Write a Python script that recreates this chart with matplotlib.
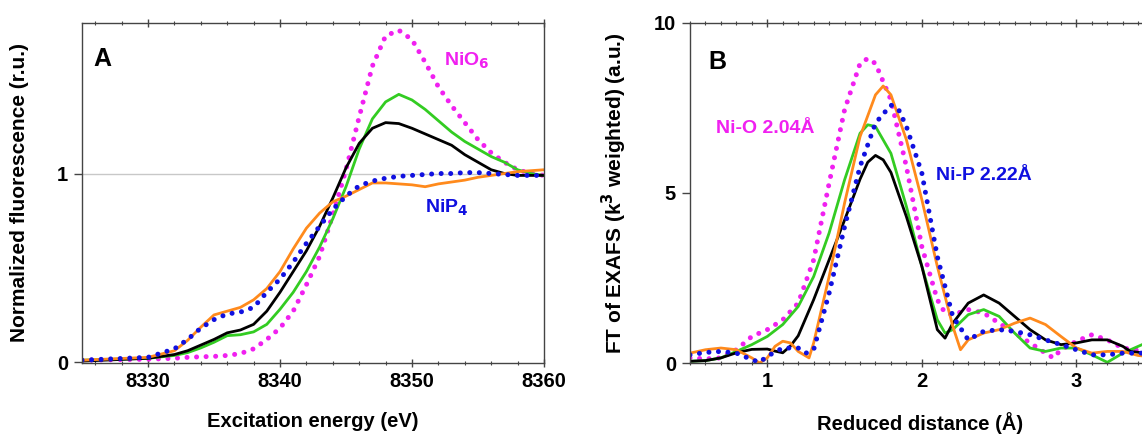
import matplotlib
matplotlib.use("Agg")
import matplotlib.pyplot as plt
from matplotlib.ticker import MultipleLocator

plt.rcParams['font.family'] = ['Liberation Sans', 'DejaVu Sans']
plt.rcParams['font.weight'] = 'bold'

# --- panel A: XANES ---
energy = [8325, 8330, 8332, 8333, 8334, 8335, 8336, 8337, 8338, 8339, 8340, 8341, 8342,
          8343, 8344, 8345, 8346, 8347, 8348, 8349, 8350, 8351, 8352, 8353, 8354, 8355,
          8356, 8357, 8358, 8359, 8360]
xanes_nio6 = [0.01, 0.015, 0.02, 0.025, 0.028, 0.03, 0.035, 0.045, 0.07, 0.12, 0.18, 0.27, 0.41,
              0.56, 0.78, 1.02, 1.30, 1.57, 1.73, 1.76, 1.71, 1.59, 1.46, 1.36, 1.27, 1.18,
              1.11, 1.06, 1.02, 1.00, 0.99]
xanes_green = [0.01, 0.02, 0.035, 0.05, 0.075, 0.105, 0.14, 0.145, 0.16, 0.20, 0.28, 0.37, 0.48,
               0.61, 0.76, 0.93, 1.13, 1.29, 1.38, 1.42, 1.39, 1.34, 1.28, 1.22, 1.17, 1.13,
               1.09, 1.06, 1.02, 1.00, 0.99]
xanes_black = [0.005, 0.02, 0.04, 0.06, 0.09, 0.12, 0.155, 0.17, 0.20, 0.27, 0.37, 0.48, 0.59,
               0.72, 0.87, 1.03, 1.16, 1.24, 1.27, 1.265, 1.24, 1.21, 1.18, 1.15, 1.10, 1.06,
               1.02, 1.00, 0.99, 0.99, 0.99]
xanes_orange = [0.01, 0.025, 0.06, 0.115, 0.185, 0.25, 0.27, 0.29, 0.33, 0.39, 0.48, 0.60, 0.71,
                0.79, 0.85, 0.88, 0.915, 0.95, 0.95, 0.945, 0.94, 0.93, 0.945, 0.955, 0.965, 0.98,
                0.99, 1.00, 1.01, 1.015, 1.02]
xanes_nip4 = [0.01, 0.025, 0.07, 0.12, 0.18, 0.225, 0.255, 0.265, 0.29, 0.37, 0.44, 0.53, 0.63,
              0.72, 0.81, 0.88, 0.935, 0.96, 0.975, 0.985, 0.99, 0.995, 1.00, 1.00, 1.005, 1.005,
              1.00, 0.995, 0.99, 0.99, 0.99]

# --- panel B: FT of EXAFS ---
dist_black = [0.5, 0.6, 0.7, 0.8, 0.9, 1.0, 1.05, 1.1, 1.15, 1.2, 1.3, 1.4, 1.5, 1.6, 1.65, 1.7,
              1.75, 1.8, 1.9, 2.0, 2.1, 2.15, 2.2, 2.3, 2.4, 2.5, 2.6, 2.7, 2.8, 2.9, 3.0, 3.1,
              3.2, 3.3, 3.35, 3.45]
ft_black = [0.05, 0.07, 0.15, 0.3, 0.4, 0.41, 0.35, 0.3, 0.5, 0.8, 1.86, 3.03, 4.2, 5.4, 5.9, 6.1,
            5.97, 5.6, 4.3, 2.84, 0.98, 0.73, 1.17, 1.76, 2.0, 1.76, 1.37, 0.98, 0.68, 0.54, 0.59,
            0.68, 0.68, 0.49, 0.34, 0.29]
dist_green = [0.5, 0.6, 0.7, 0.8, 0.9, 1.0, 1.1, 1.2, 1.3, 1.4, 1.5, 1.6, 1.65, 1.7, 1.8, 1.9,
              2.0, 2.1, 2.15, 2.2, 2.3, 2.4, 2.5, 2.6, 2.7, 2.8, 2.9, 3.0, 3.1, 3.2, 3.3, 3.4, 3.45]
ft_green = [0.05, 0.07, 0.15, 0.34, 0.54, 0.78, 1.13, 1.66, 2.54, 3.82, 5.38, 6.75, 7.0, 6.95,
            6.16, 4.6, 2.84, 1.27, 0.88, 0.98, 1.42, 1.57, 1.37, 0.88, 0.44, 0.34, 0.44, 0.44,
            0.24, 0.02, 0.29, 0.49, 0.59]
dist_orange = [0.5, 0.6, 0.7, 0.8, 0.9, 0.95, 1.0, 1.05, 1.1, 1.15, 1.2, 1.27, 1.3, 1.4, 1.5, 1.6,
               1.7, 1.75, 1.8, 1.9, 2.0, 2.1, 2.2, 2.25, 2.3, 2.4, 2.5, 2.6, 2.7, 2.8, 2.9, 3.0,
               3.1, 3.2, 3.3, 3.4, 3.45]
ft_orange = [0.29, 0.39, 0.44, 0.39, 0.15, 0.0, 0.15, 0.49, 0.64, 0.59, 0.34, 0.15, 0.59, 2.54,
             4.7, 6.65, 7.88, 8.14, 7.88, 6.56, 4.8, 2.84, 1.08, 0.39, 0.68, 0.88, 0.98, 1.17,
             1.32, 1.13, 0.78, 0.44, 0.29, 0.34, 0.34, 0.22, 0.2]
dist_nio = [0.5, 0.6, 0.7, 0.8, 0.9, 1.0, 1.1, 1.2, 1.3, 1.4, 1.5, 1.6, 1.65, 1.7, 1.8, 1.9, 2.0,
            2.1, 2.15, 2.2, 2.3, 2.4, 2.5, 2.6, 2.7, 2.8, 2.85, 2.9, 3.0, 3.1, 3.2, 3.3, 3.45]
ft_nio = [0.15, 0.12, 0.15, 0.39, 0.78, 0.98, 1.27, 1.76, 3.03, 5.28, 7.44, 8.8, 8.95, 8.8, 7.73,
          5.77, 3.42, 1.86, 1.47, 1.42, 1.57, 1.47, 1.17, 0.88, 0.59, 0.29, 0.15, 0.39, 0.64,
          0.83, 0.68, 0.44, 0.34]
dist_nip = [0.5, 0.6, 0.7, 0.8, 0.9, 0.95, 1.0, 1.1, 1.2, 1.25, 1.3, 1.4, 1.5, 1.6, 1.7, 1.8,
            1.85, 1.9, 2.0, 2.1, 2.2, 2.3, 2.4, 2.5, 2.6, 2.7, 2.8, 2.9, 3.0, 3.1, 3.2, 3.3, 3.45]
ft_nip = [0.24, 0.31, 0.34, 0.29, 0.1, 0.02, 0.2, 0.44, 0.44, 0.29, 0.39, 2.05, 4.0, 5.77, 7.05,
          7.58, 7.44, 6.95, 5.58, 3.13, 1.37, 0.68, 0.93, 0.98, 0.93, 0.83, 0.68, 0.54, 0.39,
          0.24, 0.24, 0.29, 0.29]

MAGENTA = '#f020f0'
GREEN = '#33cc22'
ORANGE = '#ff8a1c'
BLUE = '#1010e0'
DOTS = (0, (0.01, 1.9))


def style_axes(ax):
    for s in ax.spines.values():
        s.set_color('#444444')
        s.set_linewidth(1.0)
    ax.tick_params(axis='both', which='major', labelsize=14.5, width=1.0, length=6, color='#444444')
    ax.tick_params(axis='both', which='minor', width=0.8, length=3, color='#444444')
    ax.tick_params(axis='x', which='both', top=True, direction='inout')
    ax.tick_params(axis='y', which='both', direction='out', pad=4)
    for lab in ax.get_xticklabels() + ax.get_yticklabels():
        lab.set_fontweight('bold')


fig = plt.figure(figsize=(11.42, 4.36), dpi=100)
ax1 = fig.add_axes([82 / 1142, 73 / 436, 462 / 1142, 340.3 / 436])
ax2 = fig.add_axes([690 / 1142, 73 / 436, 460 / 1142, 340.3 / 436])

# panel A
ax1.axhline(1.0, color='#c8c8c8', lw=1.0, zorder=0)
ax1.plot(energy, xanes_nio6, color=MAGENTA, lw=3.6, linestyle=DOTS, dash_capstyle='round')
ax1.plot(energy, xanes_green, color=GREEN, lw=2.0)
ax1.plot(energy, xanes_black, color='black', lw=2.0)
ax1.plot(energy, xanes_orange, color=ORANGE, lw=2.0)
ax1.plot(energy, xanes_nip4, color=BLUE, lw=3.6, linestyle=DOTS, dash_capstyle='round')
ax1.set_xlim(8325, 8360)
ax1.set_ylim(-0.005, 1.80)
ax1.set_xticks([8330, 8340, 8350, 8360])
ax1.xaxis.set_minor_locator(MultipleLocator(2))
ax1.set_yticks([0, 1])
ax1.set_xlabel('Excitation energy (eV)', fontsize=14.5, fontweight='bold', labelpad=15)
ax1.set_ylabel('Normalized fluorescence (r.u.)', fontsize=15, fontweight='bold', labelpad=20)
ax1.text(0.025, 0.93, 'A', transform=ax1.transAxes, fontsize=18, fontweight='bold', va='top')
ax1.text(8352.4, 1.60, r'NiO$_\mathbf{6}$', color=MAGENTA, fontsize=14, fontweight='bold', va='center')
ax1.text(8351.0, 0.82, r'NiP$_\mathbf{4}$', color=BLUE, fontsize=14, fontweight='bold', va='center')
style_axes(ax1)

# panel B
ax2.plot(dist_nio, ft_nio, color=MAGENTA, lw=3.6, linestyle=DOTS, dash_capstyle='round')
ax2.plot(dist_green, ft_green, color=GREEN, lw=2.0)
ax2.plot(dist_black, ft_black, color='black', lw=2.0)
ax2.plot(dist_orange, ft_orange, color=ORANGE, lw=2.0)
ax2.plot(dist_nip, ft_nip, color=BLUE, lw=3.6, linestyle=DOTS, dash_capstyle='round')
ax2.set_xlim(0.5, 3.476)
ax2.set_ylim(0, 10)
ax2.set_xticks([1, 2, 3])
ax2.xaxis.set_minor_locator(MultipleLocator(0.1))
ax2.set_yticks([0, 5, 10])
ax2.spines['right'].set_visible(False)
ax2.set_xlabel('Reduced distance (Å)', fontsize=14.5, fontweight='bold', labelpad=15)
ax2.set_ylabel('FT of EXAFS (k$^\\mathbf{3}$ weighted) (a.u.)', fontsize=15, fontweight='bold', labelpad=18)
ax2.text(0.04, 0.92, 'B', transform=ax2.transAxes, fontsize=18, fontweight='bold', va='top')
ax2.text(0.67, 6.9, 'Ni-O 2.04Å', color=MAGENTA, fontsize=14, fontweight='bold', va='center')
ax2.text(2.09, 5.5, 'Ni-P 2.22Å', color=BLUE, fontsize=14, fontweight='bold', va='center')
style_axes(ax2)

fig.savefig('out.png', dpi=100)
